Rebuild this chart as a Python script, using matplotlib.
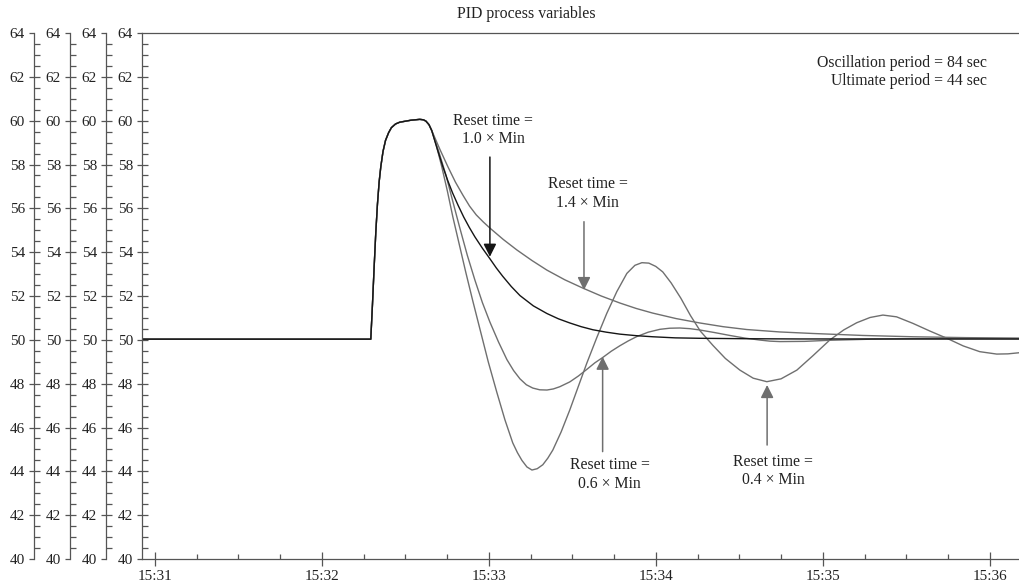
import numpy as np
import matplotlib
matplotlib.use("Agg")
import matplotlib.pyplot as plt
from matplotlib.ticker import MultipleLocator, FixedLocator

plt.rcParams["font.family"] = ["Liberation Serif", "DejaVu Serif"]

# time in seconds after 15:31:00, values in process units
rise_t = [-4.7, 77.6, 78.2, 78.8, 79.4, 80.0, 80.6, 81.2, 82.0, 82.9, 84.0, 85.0,
          86.5, 88.0, 92.0, 95.2, 96.5, 97.4, 98.5, 99.5]
rise_v = [50.03, 50.03, 51.6, 53.3, 54.9, 56.2, 57.2, 57.9, 58.6, 59.1, 59.45, 59.68,
          59.85, 59.93, 60.02, 60.06, 60.04, 59.98, 59.82, 59.55]

r10_t = [101.5, 103.5, 105.3, 107.0, 109.0, 111.0, 113.0, 115.0, 117.7, 120.4,
         122.7, 125.0, 128.1, 131.2, 136.0, 140.9, 145.0, 149.1, 153.2, 157.4,
         162.2, 167.1, 173.0, 178.9, 187.0, 195.8, 213.0, 231.8, 310.5]
r10_v = [58.7, 57.9, 57.25, 56.7, 56.13, 55.6, 55.13, 54.7, 54.18, 53.7,
         53.28, 52.9, 52.43, 52.02, 51.55, 51.2, 50.96, 50.77, 50.6, 50.46,
         50.35, 50.26, 50.19, 50.14, 50.09, 50.07, 50.05, 50.04, 50.04]

r14_t = [102.4, 105.3, 108.0, 110.7, 113.1, 115.5, 118.0, 120.4, 125.2, 130.1,
         135.5, 140.9, 147.3, 153.8, 160.4, 167.1, 173.0, 178.9, 187.3, 195.8,
         204.2, 212.7, 224.5, 236.4, 254.4, 272.4, 291.5, 310.5]
r14_v = [58.7, 57.9, 57.2, 56.6, 56.1, 55.7, 55.38, 55.1, 54.58, 54.1,
         53.62, 53.18, 52.74, 52.36, 52.0, 51.68, 51.43, 51.22, 50.97, 50.77,
         50.6, 50.47, 50.36, 50.29, 50.2, 50.14, 50.1, 50.08]

r06_t = [102.0, 104.6, 107.1, 109.6, 112.3, 115.0, 117.7, 120.4, 123.5, 126.5,
         128.9, 131.2, 133.5, 135.8, 138.3, 140.9, 143.2, 145.5, 149.1, 152.2,
         155.2, 158.1, 161.0, 164.0, 167.1, 170.1, 173.2, 177.3, 181.5, 185.0,
         188.6, 192.2, 195.8, 201.2, 206.6, 212.0, 217.4, 221.0, 224.6, 233.5,
         242.5, 257.5, 272.4, 310.5]
r06_v = [58.6, 57.52, 56.3, 55.1, 53.85, 52.73, 51.7, 50.81, 49.9, 49.1,
         48.6, 48.22, 47.95, 47.8, 47.72, 47.71, 47.76, 47.86, 48.08, 48.35,
         48.65, 48.95, 49.2, 49.48, 49.73, 49.95, 50.15, 50.35, 50.48, 50.53,
         50.54, 50.51, 50.45, 50.33, 50.2, 50.08, 49.99, 49.94, 49.92, 49.93,
         49.98, 50.03, 50.05, 50.04]

r04_t = [101.3, 103.1, 105.1, 107.1, 109.4, 111.7, 114.2, 116.8, 119.8, 122.9,
         125.8, 128.6, 130.3, 131.9, 133.7, 135.5, 137.4, 139.4, 141.2, 143.0,
         146.0, 149.1, 152.1, 155.2, 158.8, 162.4, 166.0, 169.6, 172.5, 175.0,
         177.5, 180.0, 182.5, 185.5, 189.0, 192.5, 196.0, 200.5, 205.0, 210.2,
         215.0, 219.9, 225.0, 230.7, 236.5, 242.5, 247.5, 252.2, 257.0, 261.6,
         266.5, 272.4, 278.5, 284.6, 290.5, 296.4, 302.5, 306.5, 310.5]
r04_v = [58.8, 57.9, 56.8, 55.6, 54.35, 53.1, 51.8, 50.5, 49.0, 47.6,
         46.35, 45.3, 44.85, 44.5, 44.2, 44.06, 44.12, 44.3, 44.6, 44.97,
         45.8, 46.8, 47.85, 48.93, 50.1, 51.21, 52.2, 53.03, 53.4, 53.52,
         53.5, 53.35, 53.1, 52.6, 51.9, 51.1, 50.4, 49.75, 49.15, 48.62,
         48.25, 48.09, 48.22, 48.62, 49.28, 49.99, 50.45, 50.78, 51.02, 51.13,
         51.05, 50.75, 50.4, 50.07, 49.72, 49.46, 49.35, 49.36, 49.41]

tick_secs = [0, 60, 120, 180, 240, 300]
tick_labels = ["15:31", "15:32", "15:33", "15:34", "15:35", "15:36"]

axcol = "#555555"
txtcol = "#222222"
grey = "#6f6f6f"
dark = "#151515"


def style_y(a):
    a.set_ylim(40, 64)
    a.yaxis.set_major_locator(MultipleLocator(2))
    a.yaxis.set_minor_locator(FixedLocator(np.arange(40.5, 64, 0.5)))
    a.yaxis.remove_overlapping_locs = False
    a.tick_params(axis="y", which="major", direction="out", length=3.6, width=0.9,
                  color=axcol, labelsize=11, pad=3, labelcolor=txtcol)
    a.tick_params(axis="y", which="minor", direction="in", length=4.3, width=0.9,
                  color=axcol)


fig = plt.figure(figsize=(10.19, 5.88), dpi=100)
ax = fig.add_axes([142 / 1019, 29 / 588, 877 / 1019, 526 / 588])

for name, t, v, c in [("1.4", r14_t, r14_v, grey), ("0.6", r06_t, r06_v, grey),
                      ("0.4", r04_t, r04_v, grey), ("1.0", r10_t, r10_v, dark)]:
    ax.plot(rise_t + t, rise_v + v, color=c, lw=1.0, solid_joinstyle="round")

ax.set_xlim(-4.6, 310.5)
style_y(ax)
ax.xaxis.set_major_locator(FixedLocator(tick_secs))
ax.set_xticklabels(tick_labels)
ax.xaxis.set_minor_locator(MultipleLocator(15))
ax.tick_params(axis="x", which="major", direction="inout", length=10, width=0.9,
               color=axcol, labelsize=11, pad=3, labelcolor=txtcol)
ax.tick_params(axis="x", which="minor", direction="in", length=3.6, width=0.9,
               color=axcol)
for s in ["left", "bottom", "top"]:
    ax.spines[s].set_color(axcol)
    ax.spines[s].set_linewidth(0.9)
ax.spines["right"].set_visible(False)

# extra stacked y axes on the left
for off in [36, 72, 108]:
    tw = ax.twinx()
    tw.yaxis.tick_left()
    tw.yaxis.set_label_position("left")
    for s in ["right", "top", "bottom"]:
        tw.spines[s].set_visible(False)
    tw.spines["left"].set_visible(True)
    tw.spines["left"].set_position(("outward", off * 0.72))
    tw.spines["left"].set_color(axcol)
    tw.spines["left"].set_linewidth(0.9)
    style_y(tw)

# annotations
fs = 11.3
ax.text(121.5, 59.57, "Reset time =\n1.0 × Min", ha="center", va="center",
        fontsize=fs, color=txtcol, linespacing=1.2)
ax.text(155.6, 56.67, "Reset time =\n1.4 × Min", ha="center", va="center",
        fontsize=fs, color=txtcol, linespacing=1.2)
ax.text(163.5, 43.85, "Reset time =\n0.6 × Min", ha="center", va="center",
        fontsize=fs, color=txtcol, linespacing=1.2)
ax.text(222.2, 44.02, "Reset time =\n0.4 × Min", ha="center", va="center",
        fontsize=fs, color=txtcol, linespacing=1.2)
ax.text(298.9, 62.22, "Oscillation period = 84 sec\nUltimate period = 44 sec",
        ha="right", va="center", multialignment="right", fontsize=fs,
        color=txtcol, linespacing=1.2)

arrows = [((120.4, 53.79), (120.4, 58.34), dark),
          ((154.2, 52.27), (154.2, 55.39), grey),
          ((160.9, 49.23), (160.9, 44.9), grey),
          ((220.0, 47.94), (220.0, 45.2), grey)]
for tip, tail, c in arrows:
    ax.annotate("", xy=tip, xytext=tail,
                arrowprops=dict(arrowstyle="-|>,head_length=0.7,head_width=0.35",
                                color=c, lw=1.1, shrinkA=0, shrinkB=0,
                                mutation_scale=11))

fig.text(526.5 / 1019, 1 - 14 / 588, "PID process variables", ha="center",
         va="center", fontsize=11.4, color=txtcol)

fig.savefig("out.png", dpi=100)
